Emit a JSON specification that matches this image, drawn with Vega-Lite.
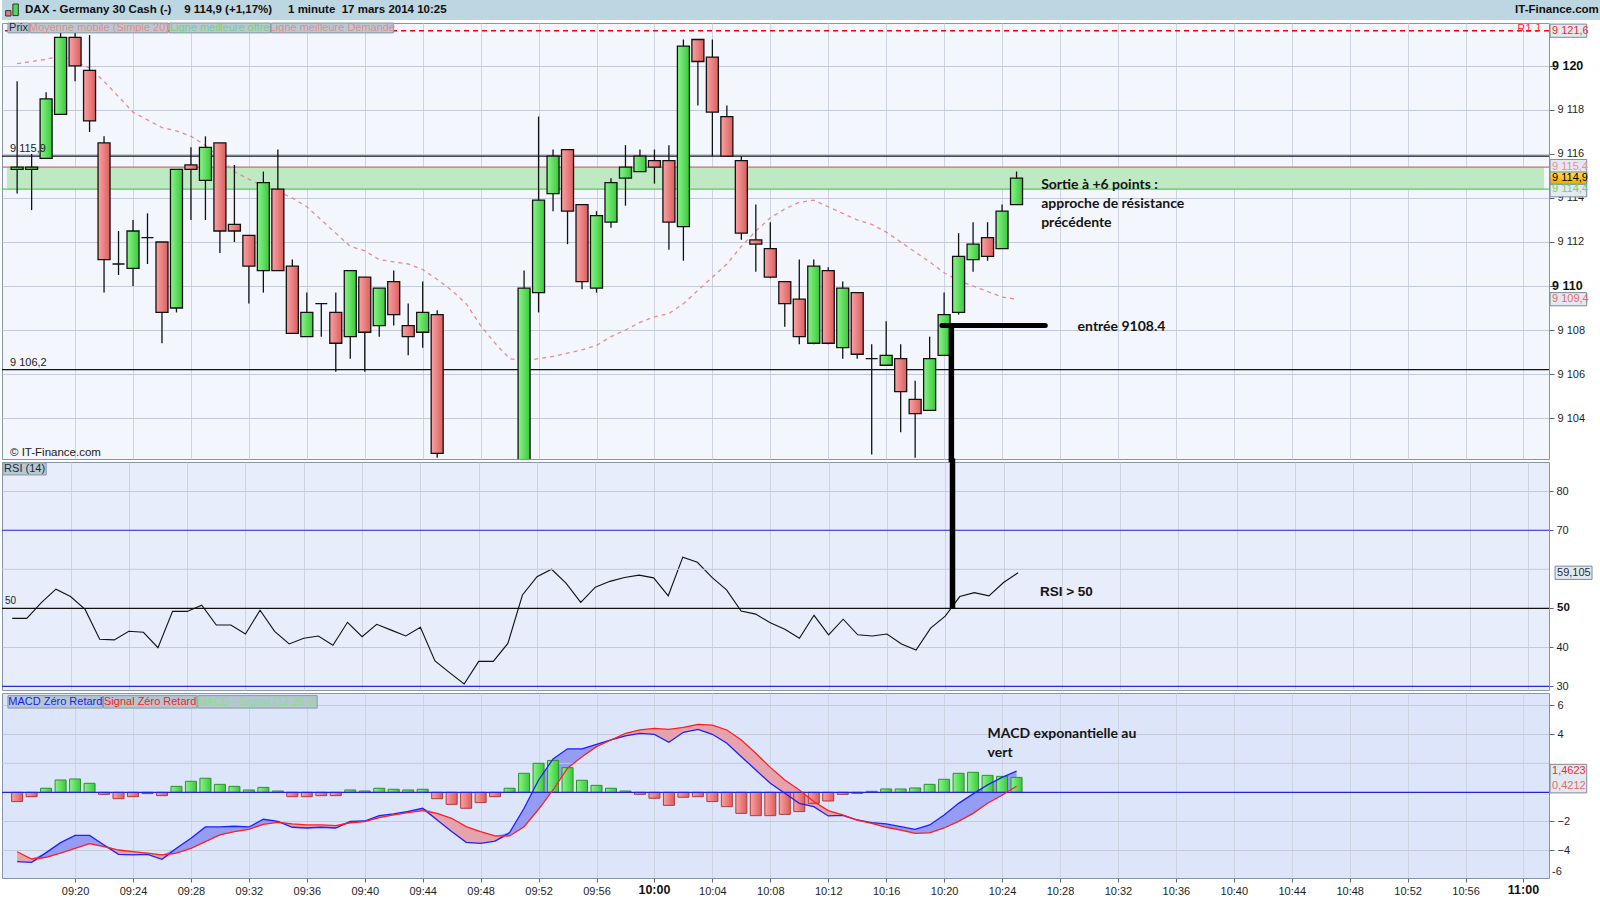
{
"$schema":"https://vega.github.io/schema/vega-lite/v6.json",
"padding":0,
"background":"#ffffff",
"bounds":"flush",
"spacing":3,
"config":{
 "view":{"stroke":"#8596a6","strokeWidth":1},
 "font":"Liberation Sans",
 "axis":{"labelFont":"Liberation Sans","labelColor":"#1e1e1e","labelFontSize":11,"gridColor":"#cdd3e0","tickColor":"#5d6876","domain":false}
},
"datasets":{"bars":[
{"t":"2014-03-17T09:16","o":9115.3,"h":9119.3,"l":9114.2,"c":9115.4,"ma":9120.1,"rsi":47.4,"macd":-4.78,"sig":-4.1,"hist":-0.64},
{"t":"2014-03-17T09:17","o":9115.3,"h":9116.0,"l":9113.45,"c":9115.4,"ma":9120.2,"rsi":47.4,"macd":-4.83,"sig":-4.6,"hist":-0.3},
{"t":"2014-03-17T09:18","o":9115.8,"h":9118.8,"l":9115.8,"c":9118.5,"ma":9120.3,"rsi":51.45,"macd":-4.16,"sig":-4.48,"hist":0.28},
{"t":"2014-03-17T09:19","o":9117.8,"h":9121.6,"l":9117.8,"c":9121.3,"ma":9120.47,"rsi":54.9,"macd":-3.47,"sig":-4.2,"hist":0.85},
{"t":"2014-03-17T09:20","o":9121.3,"h":9121.6,"l":9119.3,"c":9120.0,"ma":9120.2,"rsi":53.0,"macd":-2.97,"sig":-3.86,"hist":0.92},
{"t":"2014-03-17T09:21","o":9119.8,"h":9121.4,"l":9117.0,"c":9117.5,"ma":9119.9,"rsi":49.7,"macd":-2.97,"sig":-3.54,"hist":0.62},
{"t":"2014-03-17T09:22","o":9116.5,"h":9116.8,"l":9109.7,"c":9111.2,"ma":9119.3,"rsi":42.05,"macd":-3.63,"sig":-3.75,"hist":-0.14},
{"t":"2014-03-17T09:23","o":9111.0,"h":9112.5,"l":9110.5,"c":9111.0,"ma":9118.6,"rsi":41.9,"macd":-4.28,"sig":-3.98,"hist":-0.44},
{"t":"2014-03-17T09:24","o":9110.8,"h":9113.0,"l":9110.0,"c":9112.5,"ma":9117.9,"rsi":44.1,"macd":-4.32,"sig":-4.09,"hist":-0.3},
{"t":"2014-03-17T09:25","o":9112.2,"h":9113.3,"l":9111.0,"c":9112.2,"ma":9117.55,"rsi":43.85,"macd":-4.28,"sig":-4.2,"hist":-0.09},
{"t":"2014-03-17T09:26","o":9112.0,"h":9112.0,"l":9107.4,"c":9108.8,"ma":9117.2,"rsi":39.9,"macd":-4.62,"sig":-4.32,"hist":-0.23},
{"t":"2014-03-17T09:27","o":9109.0,"h":9115.3,"l":9108.8,"c":9115.3,"ma":9117.05,"rsi":49.2,"macd":-3.86,"sig":-4.2,"hist":0.41},
{"t":"2014-03-17T09:28","o":9115.5,"h":9116.3,"l":9113.0,"c":9115.3,"ma":9116.8,"rsi":49.2,"macd":-3.17,"sig":-3.86,"hist":0.76},
{"t":"2014-03-17T09:29","o":9114.8,"h":9116.8,"l":9113.0,"c":9116.3,"ma":9116.4,"rsi":50.8,"macd":-2.39,"sig":-3.4,"hist":0.97},
{"t":"2014-03-17T09:30","o":9116.5,"h":9116.5,"l":9111.5,"c":9112.5,"ma":9115.8,"rsi":45.7,"macd":-2.39,"sig":-2.94,"hist":0.55},
{"t":"2014-03-17T09:31","o":9112.8,"h":9115.5,"l":9112.0,"c":9112.5,"ma":9115.2,"rsi":45.7,"macd":-2.34,"sig":-2.71,"hist":0.41},
{"t":"2014-03-17T09:32","o":9112.3,"h":9112.3,"l":9109.2,"c":9110.9,"ma":9114.85,"rsi":43.4,"macd":-2.39,"sig":-2.55,"hist":0.16},
{"t":"2014-03-17T09:33","o":9110.7,"h":9115.2,"l":9109.7,"c":9114.7,"ma":9114.55,"rsi":49.5,"macd":-1.86,"sig":-2.21,"hist":0.34},
{"t":"2014-03-17T09:34","o":9114.4,"h":9116.2,"l":9110.7,"c":9110.7,"ma":9114.3,"rsi":44.1,"macd":-2.0,"sig":-2.07,"hist":0.09},
{"t":"2014-03-17T09:35","o":9110.9,"h":9111.2,"l":9107.85,"c":9107.85,"ma":9114.0,"rsi":40.85,"macd":-2.41,"sig":-2.18,"hist":-0.3},
{"t":"2014-03-17T09:36","o":9107.7,"h":9109.7,"l":9107.7,"c":9108.8,"ma":9113.6,"rsi":42.3,"macd":-2.46,"sig":-2.25,"hist":-0.3},
{"t":"2014-03-17T09:37","o":9109.2,"h":9109.2,"l":9107.7,"c":9109.2,"ma":9113.0,"rsi":42.9,"macd":-2.41,"sig":-2.25,"hist":-0.23},
{"t":"2014-03-17T09:38","o":9108.8,"h":9109.7,"l":9106.1,"c":9107.4,"ma":9112.4,"rsi":40.5,"macd":-2.46,"sig":-2.3,"hist":-0.23},
{"t":"2014-03-17T09:39","o":9107.7,"h":9110.7,"l":9106.7,"c":9110.7,"ma":9111.8,"rsi":46.4,"macd":-2.0,"sig":-2.1,"hist":0.16},
{"t":"2014-03-17T09:40","o":9110.4,"h":9110.4,"l":9106.1,"c":9107.9,"ma":9111.6,"rsi":42.7,"macd":-1.98,"sig":-2.02,"hist":0.09},
{"t":"2014-03-17T09:41","o":9108.2,"h":9109.9,"l":9107.7,"c":9109.9,"ma":9111.2,"rsi":45.9,"macd":-1.61,"sig":-1.75,"hist":0.28},
{"t":"2014-03-17T09:42","o":9110.2,"h":9110.7,"l":9108.2,"c":9108.7,"ma":9111.1,"rsi":44.4,"macd":-1.49,"sig":-1.56,"hist":0.21},
{"t":"2014-03-17T09:43","o":9108.2,"h":9109.2,"l":9106.85,"c":9107.7,"ma":9111.0,"rsi":42.9,"macd":-1.31,"sig":-1.4,"hist":0.16},
{"t":"2014-03-17T09:44","o":9107.9,"h":9110.2,"l":9107.2,"c":9108.8,"ma":9110.75,"rsi":45.1,"macd":-1.1,"sig":-1.26,"hist":0.21},
{"t":"2014-03-17T09:45","o":9108.7,"h":9108.9,"l":9102.2,"c":9102.4,"ma":9110.3,"rsi":36.5,"macd":-1.91,"sig":-1.45,"hist":-0.44},
{"t":"2014-03-17T09:46","o":9101.9,"h":9102.0,"l":9099.6,"c":9100.2,"ma":9109.8,"rsi":33.5,"macd":-2.71,"sig":-1.79,"hist":-0.83},
{"t":"2014-03-17T09:47","o":9100.2,"h":9101.0,"l":9098.8,"c":9099.3,"ma":9109.2,"rsi":30.6,"macd":-3.45,"sig":-2.37,"hist":-1.1},
{"t":"2014-03-17T09:48","o":9099.3,"h":9100.9,"l":9099.0,"c":9100.6,"ma":9108.2,"rsi":36.4,"macd":-3.52,"sig":-2.71,"hist":-0.71},
{"t":"2014-03-17T09:49","o":9100.6,"h":9101.5,"l":9099.8,"c":9100.8,"ma":9107.4,"rsi":36.4,"macd":-3.36,"sig":-3.01,"hist":-0.3},
{"t":"2014-03-17T09:50","o":9100.8,"h":9101.9,"l":9100.3,"c":9101.5,"ma":9106.7,"rsi":41.0,"macd":-2.78,"sig":-3.01,"hist":0.28},
{"t":"2014-03-17T09:51","o":9101.5,"h":9110.7,"l":9101.2,"c":9109.9,"ma":9106.6,"rsi":53.4,"macd":-1.1,"sig":-2.37,"hist":1.31},
{"t":"2014-03-17T09:52","o":9109.7,"h":9117.7,"l":9108.8,"c":9113.9,"ma":9106.7,"rsi":58.1,"macd":0.85,"sig":-1.17,"hist":2.0},
{"t":"2014-03-17T09:53","o":9114.2,"h":9116.2,"l":9113.4,"c":9115.9,"ma":9106.8,"rsi":60.0,"macd":2.3,"sig":0.16,"hist":2.2},
{"t":"2014-03-17T09:54","o":9116.2,"h":9116.2,"l":9111.9,"c":9113.4,"ma":9106.95,"rsi":56.4,"macd":3.0,"sig":1.66,"hist":1.7},
{"t":"2014-03-17T09:55","o":9113.7,"h":9113.7,"l":9109.85,"c":9110.2,"ma":9107.1,"rsi":51.5,"macd":3.0,"sig":2.46,"hist":0.83},
{"t":"2014-03-17T09:56","o":9109.9,"h":9113.4,"l":9109.7,"c":9113.2,"ma":9107.3,"rsi":55.4,"macd":3.31,"sig":3.15,"hist":0.48},
{"t":"2014-03-17T09:57","o":9112.9,"h":9114.9,"l":9112.65,"c":9114.7,"ma":9107.7,"rsi":56.9,"macd":3.61,"sig":3.61,"hist":0.28},
{"t":"2014-03-17T09:58","o":9114.9,"h":9116.4,"l":9113.65,"c":9115.4,"ma":9108.0,"rsi":57.9,"macd":3.89,"sig":4.07,"hist":0.09},
{"t":"2014-03-17T09:59","o":9115.2,"h":9116.2,"l":9115.2,"c":9115.9,"ma":9108.35,"rsi":58.5,"macd":4.07,"sig":4.3,"hist":-0.14},
{"t":"2014-03-17T10:00","o":9115.7,"h":9116.2,"l":9114.65,"c":9115.4,"ma":9108.6,"rsi":57.8,"macd":4.0,"sig":4.41,"hist":-0.41},
{"t":"2014-03-17T10:01","o":9115.7,"h":9116.4,"l":9111.65,"c":9112.9,"ma":9108.75,"rsi":53.2,"macd":3.45,"sig":4.34,"hist":-0.9},
{"t":"2014-03-17T10:02","o":9112.7,"h":9121.2,"l":9111.15,"c":9120.9,"ma":9109.2,"rsi":63.1,"macd":4.14,"sig":4.48,"hist":-0.34},
{"t":"2014-03-17T10:03","o":9121.2,"h":9121.2,"l":9118.2,"c":9120.2,"ma":9109.8,"rsi":61.8,"macd":4.34,"sig":4.69,"hist":-0.3},
{"t":"2014-03-17T10:04","o":9120.4,"h":9121.2,"l":9115.9,"c":9117.9,"ma":9110.4,"rsi":57.9,"macd":4.0,"sig":4.64,"hist":-0.64},
{"t":"2014-03-17T10:05","o":9117.7,"h":9118.2,"l":9115.9,"c":9115.9,"ma":9111.0,"rsi":54.7,"macd":3.38,"sig":4.3,"hist":-0.99},
{"t":"2014-03-17T10:06","o":9115.7,"h":9115.9,"l":9112.1,"c":9112.4,"ma":9111.8,"rsi":49.3,"macd":2.46,"sig":3.61,"hist":-1.45},
{"t":"2014-03-17T10:07","o":9112.1,"h":9113.7,"l":9110.65,"c":9111.9,"ma":9112.5,"rsi":48.5,"macd":1.54,"sig":2.69,"hist":-1.61},
{"t":"2014-03-17T10:08","o":9111.7,"h":9112.9,"l":9110.35,"c":9110.4,"ma":9113.1,"rsi":46.3,"macd":0.62,"sig":1.72,"hist":-1.61},
{"t":"2014-03-17T10:09","o":9110.2,"h":9110.2,"l":9108.15,"c":9109.2,"ma":9113.5,"rsi":44.6,"macd":-0.07,"sig":0.85,"hist":-1.52},
{"t":"2014-03-17T10:10","o":9109.4,"h":9111.2,"l":9107.35,"c":9107.7,"ma":9113.8,"rsi":42.3,"macd":-0.76,"sig":0.16,"hist":-1.33},
{"t":"2014-03-17T10:11","o":9107.4,"h":9111.2,"l":9107.35,"c":9110.9,"ma":9113.9,"rsi":48.2,"macd":-0.99,"sig":-0.64,"hist":-0.76},
{"t":"2014-03-17T10:12","o":9110.7,"h":9110.85,"l":9107.35,"c":9107.4,"ma":9113.6,"rsi":43.2,"macd":-1.63,"sig":-1.26,"hist":-0.6},
{"t":"2014-03-17T10:13","o":9107.2,"h":9110.2,"l":9106.7,"c":9109.9,"ma":9113.3,"rsi":47.2,"macd":-1.59,"sig":-1.56,"hist":-0.14},
{"t":"2014-03-17T10:14","o":9109.7,"h":9109.7,"l":9106.7,"c":9106.9,"ma":9113.0,"rsi":43.2,"macd":-1.91,"sig":-1.91,"hist":-0.07},
{"t":"2014-03-17T10:15","o":9106.7,"h":9107.35,"l":9102.35,"c":9106.7,"ma":9112.8,"rsi":42.9,"macd":-2.09,"sig":-2.14,"hist":0.07},
{"t":"2014-03-17T10:16","o":9106.4,"h":9108.4,"l":9106.4,"c":9106.85,"ma":9112.45,"rsi":43.4,"macd":-2.18,"sig":-2.41,"hist":0.23},
{"t":"2014-03-17T10:17","o":9106.7,"h":9107.35,"l":9103.35,"c":9105.2,"ma":9112.0,"rsi":40.85,"macd":-2.37,"sig":-2.6,"hist":0.23},
{"t":"2014-03-17T10:18","o":9104.85,"h":9105.7,"l":9102.2,"c":9104.2,"ma":9111.55,"rsi":39.3,"macd":-2.55,"sig":-2.83,"hist":0.3},
{"t":"2014-03-17T10:19","o":9104.35,"h":9107.7,"l":9104.35,"c":9106.7,"ma":9111.1,"rsi":44.9,"macd":-2.25,"sig":-2.8,"hist":0.55},
{"t":"2014-03-17T10:20","o":9106.85,"h":9109.7,"l":9106.85,"c":9108.7,"ma":9110.6,"rsi":48.0,"macd":-1.56,"sig":-2.46,"hist":0.9},
{"t":"2014-03-17T10:21","o":9108.8,"h":9112.4,"l":9108.7,"c":9111.35,"ma":9110.25,"rsi":53.0,"macd":-0.76,"sig":-2.0,"hist":1.31},
{"t":"2014-03-17T10:22","o":9111.2,"h":9112.9,"l":9110.65,"c":9111.9,"ma":9110.0,"rsi":54.0,"macd":-0.11,"sig":-1.45,"hist":1.38},
{"t":"2014-03-17T10:23","o":9112.2,"h":9112.9,"l":9111.15,"c":9111.35,"ma":9109.75,"rsi":53.2,"macd":0.51,"sig":-0.75,"hist":1.17},
{"t":"2014-03-17T10:24","o":9111.7,"h":9113.7,"l":9111.7,"c":9113.4,"ma":9109.5,"rsi":56.6,"macd":1.03,"sig":-0.2,"hist":1.1},
{"t":"2014-03-17T10:25","o":9113.7,"h":9115.2,"l":9113.7,"c":9114.9,"ma":9109.4,"rsi":59.1,"macd":1.46,"sig":0.42,"hist":1.03}
]},
"vconcat":[
{"width":1600,"height":20,"view":{"stroke":null,"fill":"#bcd6e2"},
 "layer":[
  {"data":{"values":[{}]},"mark":{"type":"rect","fill":"#e77a7a","stroke":"#333333","strokeWidth":1},"encoding":{"x":{"datum":0.0023,"type":"quantitative","scale":{"domain":[0,1]},"axis":null},"x2":{"datum":0.0056},"y":{"datum":0.47,"type":"quantitative","scale":{"domain":[0,1]},"axis":null},"y2":{"datum":0.2}}},
  {"data":{"values":[{}]},"mark":{"type":"rect","fill":"#55d855","stroke":"#333333","strokeWidth":1},"encoding":{"x":{"datum":0.0068,"type":"quantitative"},"x2":{"datum":0.0102},"y":{"datum":0.8,"type":"quantitative"},"y2":{"datum":0.22}}},
  {"data":{"values":[{"txt":"DAX - Germany 30 Cash (-)\u00a0\u00a0\u00a0\u00a09 114,9 (+1,17%)\u00a0\u00a0\u00a0\u00a0\u00a01 minute\u00a0\u00a017 mars 2014 10:25"}]},"mark":{"type":"text","align":"left","baseline":"middle","fontWeight":"bold","fontSize":11.5,"color":"#101010"},"encoding":{"text":{"field":"txt"},"x":{"datum":0.0144,"type":"quantitative"},"y":{"datum":0.5,"type":"quantitative"}}},
  {"data":{"values":[{"txt":"IT-Finance.com"}]},"mark":{"type":"text","align":"right","baseline":"middle","fontWeight":"bold","fontSize":11.5,"color":"#101010"},"encoding":{"text":{"field":"txt"},"x":{"datum":0.998,"type":"quantitative"},"y":{"datum":0.5,"type":"quantitative"}}}
 ]},
{"width":1547,"height":436,"view":{"fill":"#f3f6fd"},
 "layer":[
  {"data":{"values":[{}]},"mark":{"type":"rect","fill":"#bfe9c3"},"encoding":{"x":{"datum":{"year":2014,"month":3,"date":17,"hours":9,"minutes":15,"seconds":18},"type":"temporal"},"x2":{"datum":{"year":2014,"month":3,"date":17,"hours":11,"minutes":1,"seconds":25}},"y":{"datum":9115.4,"type":"quantitative"},"y2":{"datum":9114.4}}},
  {"data":{"values":[{}]},"mark":{"type":"rule","color":"#d86b6b","strokeWidth":1.2},"encoding":{"y":{"datum":9115.4,"type":"quantitative"}}},
  {"data":{"values":[{}]},"mark":{"type":"rule","color":"#5cc85c","strokeWidth":1.2},"encoding":{"y":{"datum":9114.4,"type":"quantitative"}}},
  {"data":{"values":[{}]},"mark":{"type":"rule","color":"#ff0000","strokeWidth":1.5,"strokeDash":[5,4]},"encoding":{"y":{"datum":9121.6,"type":"quantitative"}}},
  {"data":{"values":[{"v":9115.9},{"v":9106.2}]},"mark":{"type":"rule","color":"#111111","strokeWidth":1.2},"encoding":{"y":{"field":"v","type":"quantitative"}}},
  {"data":{"name":"bars"},"mark":{"type":"line","color":"#e07b7b","strokeWidth":1.3,"strokeDash":[4,4],"opacity":0.85,"clip":true},"encoding":{"x":{"field":"t","type":"temporal"},"y":{"field":"ma","type":"quantitative"}}},
  {"data":{"name":"bars"},"mark":{"type":"rule","color":"#111111","strokeWidth":1.3,"clip":true},
   "encoding":{
    "x":{"field":"t","type":"temporal","title":null,"scale":{"domain":["2014-03-17T09:15:18","2014-03-17T11:01:25"]},"axis":{"labels":false,"ticks":false,"grid":true,"values":[{"year":2014,"month":3,"date":17,"hours":9,"minutes":20},{"year":2014,"month":3,"date":17,"hours":9,"minutes":24},{"year":2014,"month":3,"date":17,"hours":9,"minutes":28},{"year":2014,"month":3,"date":17,"hours":9,"minutes":32},{"year":2014,"month":3,"date":17,"hours":9,"minutes":36},{"year":2014,"month":3,"date":17,"hours":9,"minutes":40},{"year":2014,"month":3,"date":17,"hours":9,"minutes":44},{"year":2014,"month":3,"date":17,"hours":9,"minutes":48},{"year":2014,"month":3,"date":17,"hours":9,"minutes":52},{"year":2014,"month":3,"date":17,"hours":9,"minutes":56},{"year":2014,"month":3,"date":17,"hours":10,"minutes":0},{"year":2014,"month":3,"date":17,"hours":10,"minutes":4},{"year":2014,"month":3,"date":17,"hours":10,"minutes":8},{"year":2014,"month":3,"date":17,"hours":10,"minutes":12},{"year":2014,"month":3,"date":17,"hours":10,"minutes":16},{"year":2014,"month":3,"date":17,"hours":10,"minutes":20},{"year":2014,"month":3,"date":17,"hours":10,"minutes":24},{"year":2014,"month":3,"date":17,"hours":10,"minutes":28},{"year":2014,"month":3,"date":17,"hours":10,"minutes":32},{"year":2014,"month":3,"date":17,"hours":10,"minutes":36},{"year":2014,"month":3,"date":17,"hours":10,"minutes":40},{"year":2014,"month":3,"date":17,"hours":10,"minutes":44},{"year":2014,"month":3,"date":17,"hours":10,"minutes":48},{"year":2014,"month":3,"date":17,"hours":10,"minutes":52},{"year":2014,"month":3,"date":17,"hours":10,"minutes":56},{"year":2014,"month":3,"date":17,"hours":11,"minutes":0}]}},
    "y":{"field":"l","type":"quantitative","title":null,"scale":{"domain":[9102.14,9121.95],"nice":false,"zero":false},"axis":{"orient":"right","values":[9104,9106,9108,9110,9112,9114,9116,9118,9120],"labelExpr":"datum.value == 9120 || datum.value == 9110 ? '' : replace(format(datum.value, ','), ',', ' ')","grid":true,"gridColor":"#c3cad9","tickSize":5,"labelPadding":3}},
    "y2":{"field":"h"}}},
  {"data":{"name":"bars"},"transform":[{"filter":"datum.c >= datum.o"}],"mark":{"type":"bar","size":12,"clip":true,"stroke":"#111111","strokeWidth":1.3,"fill":{"gradient":"linear","x1":0,"y1":0,"x2":1,"y2":0,"stops":[{"offset":0,"color":"#88f488"},{"offset":1,"color":"#3cc83c"}]}},"encoding":{"x":{"field":"t","type":"temporal"},"y":{"field":"o","type":"quantitative"},"y2":{"field":"c"}}},
  {"data":{"name":"bars"},"transform":[{"filter":"datum.c < datum.o"}],"mark":{"type":"bar","size":12,"clip":true,"stroke":"#111111","strokeWidth":1.3,"fill":{"gradient":"linear","x1":0,"y1":0,"x2":1,"y2":0,"stops":[{"offset":0,"color":"#f8a3a3"},{"offset":1,"color":"#dc5e5e"}]}},"encoding":{"x":{"field":"t","type":"temporal"},"y":{"field":"o","type":"quantitative"},"y2":{"field":"c"}}},
  {"data":{"values":[{"v":9115.9,"label":"9 115,9"},{"v":9106.2,"label":"9 106,2"}]},"mark":{"type":"text","align":"left","baseline":"bottom","dx":3,"dy":-2,"fontSize":11,"color":"#222222"},"encoding":{"x":{"datum":{"year":2014,"month":3,"date":17,"hours":9,"minutes":15,"seconds":18},"type":"temporal"},"y":{"field":"v","type":"quantitative"},"text":{"field":"label"}}},
  {"data":{"values":[{"v":9120,"label":"9 120"},{"v":9110,"label":"9 110"}]},"mark":{"type":"text","align":"left","baseline":"middle","dx":8,"fontSize":12.5,"fontWeight":"bold","color":"#111111"},"encoding":{"x":{"datum":{"year":2014,"month":3,"date":17,"hours":11,"minutes":1,"seconds":25},"type":"temporal"},"y":{"field":"v","type":"quantitative"},"text":{"field":"label"}}},
  {"data":{"values":[{}]},"mark":{"type":"rule","color":"#000000","strokeWidth":5.5},"encoding":{"x":{"datum":{"year":2014,"month":3,"date":17,"hours":10,"minutes":20,"seconds":30},"type":"temporal"},"y":{"datum":9108.2,"type":"quantitative"},"y2":{"datum":9101.9}}},
  {"data":{"values":[{}]},"mark":{"type":"rule","color":"#000000","strokeWidth":5,"strokeCap":"round"},"encoding":{"x":{"datum":{"year":2014,"month":3,"date":17,"hours":10,"minutes":19,"seconds":51},"type":"temporal"},"x2":{"datum":{"year":2014,"month":3,"date":17,"hours":10,"minutes":26,"seconds":59}},"y":{"datum":9108.2,"type":"quantitative"}}},
  {"data":{"values":[{}]},"mark":{"type":"text","text":["Sortie à +6 points :","approche de résistance","précédente"],"align":"left","baseline":"middle","lineHeight":19,"font":"Lato","fontWeight":"bold","fontSize":14,"color":"#141414"},"encoding":{"x":{"datum":{"year":2014,"month":3,"date":17,"hours":10,"minutes":26,"seconds":42},"type":"temporal"},"y":{"datum":9114.59,"type":"quantitative"}}},
  {"data":{"values":[{}]},"mark":{"type":"text","text":"entrée 9108.4","align":"left","baseline":"middle","font":"Lato","fontWeight":"bold","fontSize":14,"color":"#141414"},"encoding":{"x":{"datum":{"year":2014,"month":3,"date":17,"hours":10,"minutes":29,"seconds":13},"type":"temporal"},"y":{"datum":9108.15,"type":"quantitative"}}},
  {"data":{"values":[{}]},"mark":{"type":"text","text":"© IT-Finance.com","align":"left","baseline":"middle","dx":3,"fontSize":11.5,"color":"#222222"},"encoding":{"x":{"datum":{"year":2014,"month":3,"date":17,"hours":9,"minutes":15,"seconds":18},"type":"temporal"},"y":{"datum":9102.41,"type":"quantitative"}}},
  {"data":{"values":[{}]},"mark":{"type":"text","text":"R1 J","align":"right","baseline":"bottom","dy":3,"fontSize":11,"color":"#ff3030"},"encoding":{"x":{"datum":{"year":2014,"month":3,"date":17,"hours":11,"minutes":1,"seconds":8},"type":"temporal"},"y":{"datum":9121.6,"type":"quantitative"}}},
  {"data":{"values":[{}]},"mark":{"type":"rect","fill":"#b9c9d2","stroke":"#8799a6","strokeWidth":1},"encoding":{"x":{"datum":{"year":2014,"month":3,"date":17,"hours":9,"minutes":15,"seconds":22},"type":"temporal"},"x2":{"datum":{"year":2014,"month":3,"date":17,"hours":9,"minutes":16,"seconds":49}},"y":{"datum":9121.95,"type":"quantitative"},"y2":{"datum":9121.5}}},
  {"data":{"values":[{}]},"mark":{"type":"rect","fill":"#b9c9d2","stroke":"#8799a6","strokeWidth":1},"encoding":{"x":{"datum":{"year":2014,"month":3,"date":17,"hours":9,"minutes":16,"seconds":53},"type":"temporal"},"x2":{"datum":{"year":2014,"month":3,"date":17,"hours":9,"minutes":26,"seconds":25}},"y":{"datum":9121.95,"type":"quantitative"},"y2":{"datum":9121.5}}},
  {"data":{"values":[{}]},"mark":{"type":"rect","fill":"#b9c9d2","stroke":"#8799a6","strokeWidth":1},"encoding":{"x":{"datum":{"year":2014,"month":3,"date":17,"hours":9,"minutes":26,"seconds":29},"type":"temporal"},"x2":{"datum":{"year":2014,"month":3,"date":17,"hours":9,"minutes":33,"seconds":29}},"y":{"datum":9121.95,"type":"quantitative"},"y2":{"datum":9121.5}}},
  {"data":{"values":[{}]},"mark":{"type":"rect","fill":"#b9c9d2","stroke":"#8799a6","strokeWidth":1},"encoding":{"x":{"datum":{"year":2014,"month":3,"date":17,"hours":9,"minutes":33,"seconds":33},"type":"temporal"},"x2":{"datum":{"year":2014,"month":3,"date":17,"hours":9,"minutes":41,"seconds":59}},"y":{"datum":9121.95,"type":"quantitative"},"y2":{"datum":9121.5}}},
  {"data":{"values":[{}]},"mark":{"type":"text","text":"Prix","align":"center","baseline":"middle","fontSize":11,"color":"#1b2a3a"},"encoding":{"x":{"datum":{"year":2014,"month":3,"date":17,"hours":9,"minutes":16,"seconds":6},"type":"temporal"},"y":{"datum":9121.72,"type":"quantitative"}}},
  {"data":{"values":[{}]},"mark":{"type":"text","text":"Moyenne mobile (Simple 20)","align":"center","baseline":"middle","fontSize":11,"color":"#e88a8a"},"encoding":{"x":{"datum":{"year":2014,"month":3,"date":17,"hours":9,"minutes":21,"seconds":39},"type":"temporal"},"y":{"datum":9121.72,"type":"quantitative"}}},
  {"data":{"values":[{}]},"mark":{"type":"text","text":"Ligne meilleure offre","align":"center","baseline":"middle","fontSize":11,"color":"#72d472"},"encoding":{"x":{"datum":{"year":2014,"month":3,"date":17,"hours":9,"minutes":29,"seconds":59},"type":"temporal"},"y":{"datum":9121.72,"type":"quantitative"}}},
  {"data":{"values":[{}]},"mark":{"type":"text","text":"Ligne meilleure Demande","align":"center","baseline":"middle","fontSize":11,"color":"#e88a8a"},"encoding":{"x":{"datum":{"year":2014,"month":3,"date":17,"hours":9,"minutes":37,"seconds":46},"type":"temporal"},"y":{"datum":9121.72,"type":"quantitative"}}},
  {"data":{"values":[{}]},"mark":{"type":"rect","fill":"#e3e9f1","stroke":"#7d8a99","strokeWidth":1},"encoding":{"x":{"datum":{"year":2014,"month":3,"date":17,"hours":11,"minutes":1,"seconds":50},"type":"temporal"},"x2":{"datum":{"year":2014,"month":3,"date":17,"hours":11,"minutes":4,"seconds":22}},"y":{"datum":9121.9,"type":"quantitative"},"y2":{"datum":9121.3}}},
  {"data":{"values":[{}]},"mark":{"type":"rect","fill":"#e3e9f1","stroke":"#7d8a99","strokeWidth":1},"encoding":{"x":{"datum":{"year":2014,"month":3,"date":17,"hours":11,"minutes":1,"seconds":50},"type":"temporal"},"x2":{"datum":{"year":2014,"month":3,"date":17,"hours":11,"minutes":4,"seconds":22}},"y":{"datum":9109.7,"type":"quantitative"},"y2":{"datum":9109.1}}},
  {"data":{"values":[{}]},"mark":{"type":"rect","fill":"#e3e9f1","stroke":"#7d8a99","strokeWidth":1},"encoding":{"x":{"datum":{"year":2014,"month":3,"date":17,"hours":11,"minutes":1,"seconds":50},"type":"temporal"},"x2":{"datum":{"year":2014,"month":3,"date":17,"hours":11,"minutes":4,"seconds":22}},"y":{"datum":9115.75,"type":"quantitative"},"y2":{"datum":9114.05}}},
  {"data":{"values":[{}]},"mark":{"type":"rect","fill":{"gradient":"linear","x1":0,"y1":0,"x2":0,"y2":1,"stops":[{"offset":0,"color":"#ffe040"},{"offset":1,"color":"#eaa800"}]},"stroke":"#7d8a99","strokeWidth":1},"encoding":{"x":{"datum":{"year":2014,"month":3,"date":17,"hours":11,"minutes":1,"seconds":50},"type":"temporal"},"x2":{"datum":{"year":2014,"month":3,"date":17,"hours":11,"minutes":4,"seconds":22}},"y":{"datum":9115.18,"type":"quantitative"},"y2":{"datum":9114.62}}},
  {"data":{"values":[{"k":"r1","v":9121.6,"label":"9 121,6"},{"k":"ma","v":9109.4,"label":"9 109,4"},{"k":"ask","v":9115.4,"label":"9 115,4"},{"k":"bid","v":9114.4,"label":"9 114,4"},{"k":"last","v":9114.9,"label":"9 114,9"}]},"mark":{"type":"text","align":"left","baseline":"middle","fontSize":11,"dx":2},"encoding":{"x":{"datum":{"year":2014,"month":3,"date":17,"hours":11,"minutes":1,"seconds":50},"type":"temporal"},"y":{"field":"v","type":"quantitative"},"text":{"field":"label"},"color":{"field":"k","type":"nominal","scale":{"domain":["r1","ma","ask","bid","last"],"range":["#ff1f1f","#e36b6b","#e79191","#6fd06f","#000000"]},"legend":null}}}
 ]},
{"width":1547,"height":228,"view":{"fill":"#e7edfb"},
 "layer":[
  {"data":{"values":[{}]},"mark":{"type":"rule","color":"#2b2bd6","strokeWidth":1.2},"encoding":{"y":{"datum":70,"type":"quantitative"}}},
  {"data":{"values":[{}]},"mark":{"type":"rule","color":"#2b2bd6","strokeWidth":1.2},"encoding":{"y":{"datum":30,"type":"quantitative"}}},
  {"data":{"values":[{}]},"mark":{"type":"rule","color":"#111111","strokeWidth":1.3},"encoding":{"y":{"datum":50,"type":"quantitative"}}},
  {"data":{"name":"bars"},"mark":{"type":"line","color":"#111111","strokeWidth":1.1},
   "encoding":{
    "x":{"field":"t","type":"temporal","title":null,"scale":{"domain":["2014-03-17T09:15:18","2014-03-17T11:01:25"]},"axis":{"labels":false,"ticks":false,"grid":true,"values":[{"year":2014,"month":3,"date":17,"hours":9,"minutes":20},{"year":2014,"month":3,"date":17,"hours":9,"minutes":24},{"year":2014,"month":3,"date":17,"hours":9,"minutes":28},{"year":2014,"month":3,"date":17,"hours":9,"minutes":32},{"year":2014,"month":3,"date":17,"hours":9,"minutes":36},{"year":2014,"month":3,"date":17,"hours":9,"minutes":40},{"year":2014,"month":3,"date":17,"hours":9,"minutes":44},{"year":2014,"month":3,"date":17,"hours":9,"minutes":48},{"year":2014,"month":3,"date":17,"hours":9,"minutes":52},{"year":2014,"month":3,"date":17,"hours":9,"minutes":56},{"year":2014,"month":3,"date":17,"hours":10,"minutes":0},{"year":2014,"month":3,"date":17,"hours":10,"minutes":4},{"year":2014,"month":3,"date":17,"hours":10,"minutes":8},{"year":2014,"month":3,"date":17,"hours":10,"minutes":12},{"year":2014,"month":3,"date":17,"hours":10,"minutes":16},{"year":2014,"month":3,"date":17,"hours":10,"minutes":20},{"year":2014,"month":3,"date":17,"hours":10,"minutes":24},{"year":2014,"month":3,"date":17,"hours":10,"minutes":28},{"year":2014,"month":3,"date":17,"hours":10,"minutes":32},{"year":2014,"month":3,"date":17,"hours":10,"minutes":36},{"year":2014,"month":3,"date":17,"hours":10,"minutes":40},{"year":2014,"month":3,"date":17,"hours":10,"minutes":44},{"year":2014,"month":3,"date":17,"hours":10,"minutes":48},{"year":2014,"month":3,"date":17,"hours":10,"minutes":52},{"year":2014,"month":3,"date":17,"hours":10,"minutes":56},{"year":2014,"month":3,"date":17,"hours":11,"minutes":0}]}},
    "y":{"field":"rsi","type":"quantitative","title":null,"scale":{"domain":[29.05,87.5],"nice":false,"zero":false},"axis":{"orient":"right","values":[30,40,50,70,80],"labelExpr":"datum.value == 50 ? '' : datum.label","grid":true,"gridColor":"#c3cad9","tickSize":4,"labelPadding":3}}}},
  {"data":{"values":[{}]},"mark":{"type":"rule","color":"#c3cad9","strokeWidth":1},"encoding":{"y":{"datum":60,"type":"quantitative"}}},
  {"data":{"values":[{}]},"mark":{"type":"text","text":"50","align":"left","baseline":"middle","dx":8,"fontSize":11.5,"fontWeight":"bold","color":"#111111"},"encoding":{"x":{"datum":{"year":2014,"month":3,"date":17,"hours":11,"minutes":1,"seconds":25},"type":"temporal"},"y":{"datum":50,"type":"quantitative"}}},
  {"data":{"values":[{}]},"mark":{"type":"text","text":"50","align":"left","baseline":"bottom","dx":3,"dy":-2,"fontSize":10,"color":"#222222"},"encoding":{"x":{"datum":{"year":2014,"month":3,"date":17,"hours":9,"minutes":15,"seconds":18},"type":"temporal"},"y":{"datum":50,"type":"quantitative"}}},
  {"data":{"values":[{}]},"mark":{"type":"rule","color":"#000000","strokeWidth":5.5},"encoding":{"x":{"datum":{"year":2014,"month":3,"date":17,"hours":10,"minutes":20,"seconds":30},"type":"temporal"},"y":{"datum":50,"type":"quantitative"},"y2":{"datum":88.4}}},
  {"data":{"values":[{}]},"mark":{"type":"text","text":"RSI > 50","align":"left","baseline":"middle","fontWeight":"bold","fontSize":13.5,"color":"#141414"},"encoding":{"x":{"datum":{"year":2014,"month":3,"date":17,"hours":10,"minutes":26,"seconds":30},"type":"temporal"},"y":{"datum":54.1,"type":"quantitative"}}},
  {"data":{"values":[{}]},"mark":{"type":"rect","fill":"#b9c9d2","stroke":"#8799a6","strokeWidth":1},"encoding":{"x":{"datum":{"year":2014,"month":3,"date":17,"hours":9,"minutes":15,"seconds":22},"type":"temporal"},"x2":{"datum":{"year":2014,"month":3,"date":17,"hours":9,"minutes":18,"seconds":20}},"y":{"datum":87.26,"type":"quantitative"},"y2":{"datum":84.18}}},
  {"data":{"values":[{}]},"mark":{"type":"text","text":"RSI (14)","align":"center","baseline":"middle","fontSize":11,"color":"#1b2a3a"},"encoding":{"x":{"datum":{"year":2014,"month":3,"date":17,"hours":9,"minutes":16,"seconds":51},"type":"temporal"},"y":{"datum":85.7,"type":"quantitative"}}},
  {"data":{"values":[{}]},"mark":{"type":"rect","fill":"#e3e9f1","stroke":"#7d8a99","strokeWidth":1},"encoding":{"x":{"datum":{"year":2014,"month":3,"date":17,"hours":11,"minutes":1,"seconds":50},"type":"temporal"},"x2":{"datum":{"year":2014,"month":3,"date":17,"hours":11,"minutes":4,"seconds":22}},"y":{"datum":60.8,"type":"quantitative"},"y2":{"datum":57.4}}},
  {"data":{"values":[{"v":59.105,"label":"59,105"}]},"mark":{"type":"text","align":"left","baseline":"middle","fontSize":11,"dx":2,"color":"#1e2a3a"},"encoding":{"x":{"datum":{"year":2014,"month":3,"date":17,"hours":11,"minutes":1,"seconds":50},"type":"temporal"},"y":{"field":"v","type":"quantitative"},"text":{"field":"label"}}}
 ]},
{"width":1547,"height":185,"view":{"fill":"#dde5fb"},
 "layer":[
  {"data":{"name":"bars"},"transform":[{"calculate":"max(datum.macd, datum.sig)","as":"hi"}],"mark":{"type":"area","color":"#8c93f2","opacity":0.9},
   "encoding":{
    "x":{"field":"t","type":"temporal","title":null,"scale":{"domain":["2014-03-17T09:15:18","2014-03-17T11:01:25"]},"axis":{"format":"%H:%M","labelExpr":"minutes(datum.value) == 0 ? '' : datum.label","grid":true,"tickSize":4,"labelPadding":3,"values":[{"year":2014,"month":3,"date":17,"hours":9,"minutes":20},{"year":2014,"month":3,"date":17,"hours":9,"minutes":24},{"year":2014,"month":3,"date":17,"hours":9,"minutes":28},{"year":2014,"month":3,"date":17,"hours":9,"minutes":32},{"year":2014,"month":3,"date":17,"hours":9,"minutes":36},{"year":2014,"month":3,"date":17,"hours":9,"minutes":40},{"year":2014,"month":3,"date":17,"hours":9,"minutes":44},{"year":2014,"month":3,"date":17,"hours":9,"minutes":48},{"year":2014,"month":3,"date":17,"hours":9,"minutes":52},{"year":2014,"month":3,"date":17,"hours":9,"minutes":56},{"year":2014,"month":3,"date":17,"hours":10,"minutes":0},{"year":2014,"month":3,"date":17,"hours":10,"minutes":4},{"year":2014,"month":3,"date":17,"hours":10,"minutes":8},{"year":2014,"month":3,"date":17,"hours":10,"minutes":12},{"year":2014,"month":3,"date":17,"hours":10,"minutes":16},{"year":2014,"month":3,"date":17,"hours":10,"minutes":20},{"year":2014,"month":3,"date":17,"hours":10,"minutes":24},{"year":2014,"month":3,"date":17,"hours":10,"minutes":28},{"year":2014,"month":3,"date":17,"hours":10,"minutes":32},{"year":2014,"month":3,"date":17,"hours":10,"minutes":36},{"year":2014,"month":3,"date":17,"hours":10,"minutes":40},{"year":2014,"month":3,"date":17,"hours":10,"minutes":44},{"year":2014,"month":3,"date":17,"hours":10,"minutes":48},{"year":2014,"month":3,"date":17,"hours":10,"minutes":52},{"year":2014,"month":3,"date":17,"hours":10,"minutes":56},{"year":2014,"month":3,"date":17,"hours":11,"minutes":0}]}},
    "y":{"field":"hi","type":"quantitative","title":null,"scale":{"domain":[-5.91,6.85],"nice":false,"zero":false},"axis":{"orient":"right","values":[-4,-2,4,6],"grid":true,"gridColor":"#c3cad9","tickSize":5,"labelPadding":3}},
    "y2":{"field":"sig"}}},
  {"data":{"values":[{}]},"mark":{"type":"rule","color":"#c3cad9","strokeWidth":1},"encoding":{"y":{"datum":2,"type":"quantitative"}}},
  {"data":{"name":"bars"},"transform":[{"calculate":"min(datum.macd, datum.sig)","as":"lo"}],"mark":{"type":"area","color":"#e79aa4","opacity":0.9},"encoding":{"x":{"field":"t","type":"temporal"},"y":{"field":"lo","type":"quantitative"},"y2":{"field":"sig"}}},
  {"data":{"name":"bars"},"transform":[{"filter":"datum.hist >= 0"}],"mark":{"type":"bar","size":11,"stroke":"#2e8f2e","strokeWidth":1,"fill":{"gradient":"linear","x1":0,"y1":0,"x2":1,"y2":0,"stops":[{"offset":0,"color":"#88f488"},{"offset":1,"color":"#3cc83c"}]}},"encoding":{"x":{"field":"t","type":"temporal"},"y":{"field":"hist","type":"quantitative"}}},
  {"data":{"name":"bars"},"transform":[{"filter":"datum.hist < 0"}],"mark":{"type":"bar","size":11,"stroke":"#b03a3a","strokeWidth":1,"fill":{"gradient":"linear","x1":0,"y1":0,"x2":1,"y2":0,"stops":[{"offset":0,"color":"#f8a3a3"},{"offset":1,"color":"#dc5e5e"}]}},"encoding":{"x":{"field":"t","type":"temporal"},"y":{"field":"hist","type":"quantitative"}}},
  {"data":{"values":[{}]},"mark":{"type":"rule","color":"#2323d8","strokeWidth":1.3},"encoding":{"y":{"datum":0,"type":"quantitative"}}},
  {"data":{"name":"bars"},"mark":{"type":"line","color":"#1f1fff","strokeWidth":1.3},"encoding":{"x":{"field":"t","type":"temporal"},"y":{"field":"macd","type":"quantitative"}}},
  {"data":{"name":"bars"},"mark":{"type":"line","color":"#ff1f1f","strokeWidth":1.3},"encoding":{"x":{"field":"t","type":"temporal"},"y":{"field":"sig","type":"quantitative"}}},
  {"data":{"values":[{}]},"mark":{"type":"rect","fill":"#b4c6d0","stroke":"#8799a6","strokeWidth":1},"encoding":{"x":{"datum":{"year":2014,"month":3,"date":17,"hours":9,"minutes":15,"seconds":22},"type":"temporal"},"x2":{"datum":{"year":2014,"month":3,"date":17,"hours":9,"minutes":21,"seconds":54}},"y":{"datum":6.67,"type":"quantitative"},"y2":{"datum":5.81}}},
  {"data":{"values":[{}]},"mark":{"type":"rect","fill":"#b4c6d0","stroke":"#8799a6","strokeWidth":1},"encoding":{"x":{"datum":{"year":2014,"month":3,"date":17,"hours":9,"minutes":21,"seconds":58},"type":"temporal"},"x2":{"datum":{"year":2014,"month":3,"date":17,"hours":9,"minutes":28,"seconds":25}},"y":{"datum":6.67,"type":"quantitative"},"y2":{"datum":5.81}}},
  {"data":{"values":[{}]},"mark":{"type":"rect","fill":"#b4c6d0","stroke":"#8799a6","strokeWidth":1},"encoding":{"x":{"datum":{"year":2014,"month":3,"date":17,"hours":9,"minutes":28,"seconds":29},"type":"temporal"},"x2":{"datum":{"year":2014,"month":3,"date":17,"hours":9,"minutes":36,"seconds":43}},"y":{"datum":6.67,"type":"quantitative"},"y2":{"datum":5.81}}},
  {"data":{"values":[{}]},"mark":{"type":"text","text":"MACD Zéro Retard","align":"center","baseline":"middle","fontSize":11,"color":"#1a1aff"},"encoding":{"x":{"datum":{"year":2014,"month":3,"date":17,"hours":9,"minutes":18,"seconds":38},"type":"temporal"},"y":{"datum":6.24,"type":"quantitative"}}},
  {"data":{"values":[{}]},"mark":{"type":"text","text":"Signal Zéro Retard","align":"center","baseline":"middle","fontSize":11,"color":"#ff1a1a"},"encoding":{"x":{"datum":{"year":2014,"month":3,"date":17,"hours":9,"minutes":25,"seconds":11},"type":"temporal"},"y":{"datum":6.24,"type":"quantitative"}}},
  {"data":{"values":[{}]},"mark":{"type":"text","text":"MACD - Signal (12 26 9)","align":"center","baseline":"middle","fontSize":11,"color":"#8fdc8f"},"encoding":{"x":{"datum":{"year":2014,"month":3,"date":17,"hours":9,"minutes":32,"seconds":33},"type":"temporal"},"y":{"datum":6.24,"type":"quantitative"}}},
  {"data":{"values":[{}]},"mark":{"type":"text","text":["MACD exponantielle au","vert"],"align":"left","baseline":"middle","lineHeight":19,"font":"Lato","fontWeight":"bold","fontSize":14,"color":"#141414"},"encoding":{"x":{"datum":{"year":2014,"month":3,"date":17,"hours":10,"minutes":23,"seconds":0},"type":"temporal"},"y":{"datum":4.0,"type":"quantitative"}}},
  {"data":{"values":[{}]},"mark":{"type":"rect","fill":"#e3e9f1","stroke":"#7d8a99","strokeWidth":1},"encoding":{"x":{"datum":{"year":2014,"month":3,"date":17,"hours":11,"minutes":1,"seconds":50},"type":"temporal"},"x2":{"datum":{"year":2014,"month":3,"date":17,"hours":11,"minutes":4,"seconds":22}},"y":{"datum":1.93,"type":"quantitative"},"y2":{"datum":-0.04}}},
  {"data":{"values":[{"k":"macd","v":1.4623,"label":"1,4623"},{"k":"sig","v":0.4212,"label":"0,4212"}]},"mark":{"type":"text","align":"left","baseline":"middle","fontSize":11,"dx":2},"encoding":{"x":{"datum":{"year":2014,"month":3,"date":17,"hours":11,"minutes":1,"seconds":50},"type":"temporal"},"y":{"field":"v","type":"quantitative"},"text":{"field":"label"},"color":{"field":"k","type":"nominal","scale":{"domain":["macd","sig"],"range":["#1f1fff","#ff1f1f"]},"legend":null}}},
  {"data":{"values":[{}]},"mark":{"type":"text","text":"-6","align":"left","baseline":"middle","dx":8,"fontSize":11,"color":"#1e1e1e"},"encoding":{"x":{"datum":{"year":2014,"month":3,"date":17,"hours":11,"minutes":1,"seconds":25},"type":"temporal"},"y":{"datum":-5.5,"type":"quantitative"}}},
  {"data":{"values":[{}]},"mark":{"type":"text","text":"10:00","align":"center","baseline":"middle","fontSize":12.5,"fontWeight":"bold","color":"#111111"},"encoding":{"x":{"datum":{"year":2014,"month":3,"date":17,"hours":10,"minutes":0,"seconds":0},"type":"temporal"},"y":{"datum":-6.74,"type":"quantitative"}}},
  {"data":{"values":[{}]},"mark":{"type":"text","text":"11:00","align":"center","baseline":"middle","fontSize":12.5,"fontWeight":"bold","color":"#111111"},"encoding":{"x":{"datum":{"year":2014,"month":3,"date":17,"hours":11,"minutes":0,"seconds":0},"type":"temporal"},"y":{"datum":-6.74,"type":"quantitative"}}}
 ]}
]
}
